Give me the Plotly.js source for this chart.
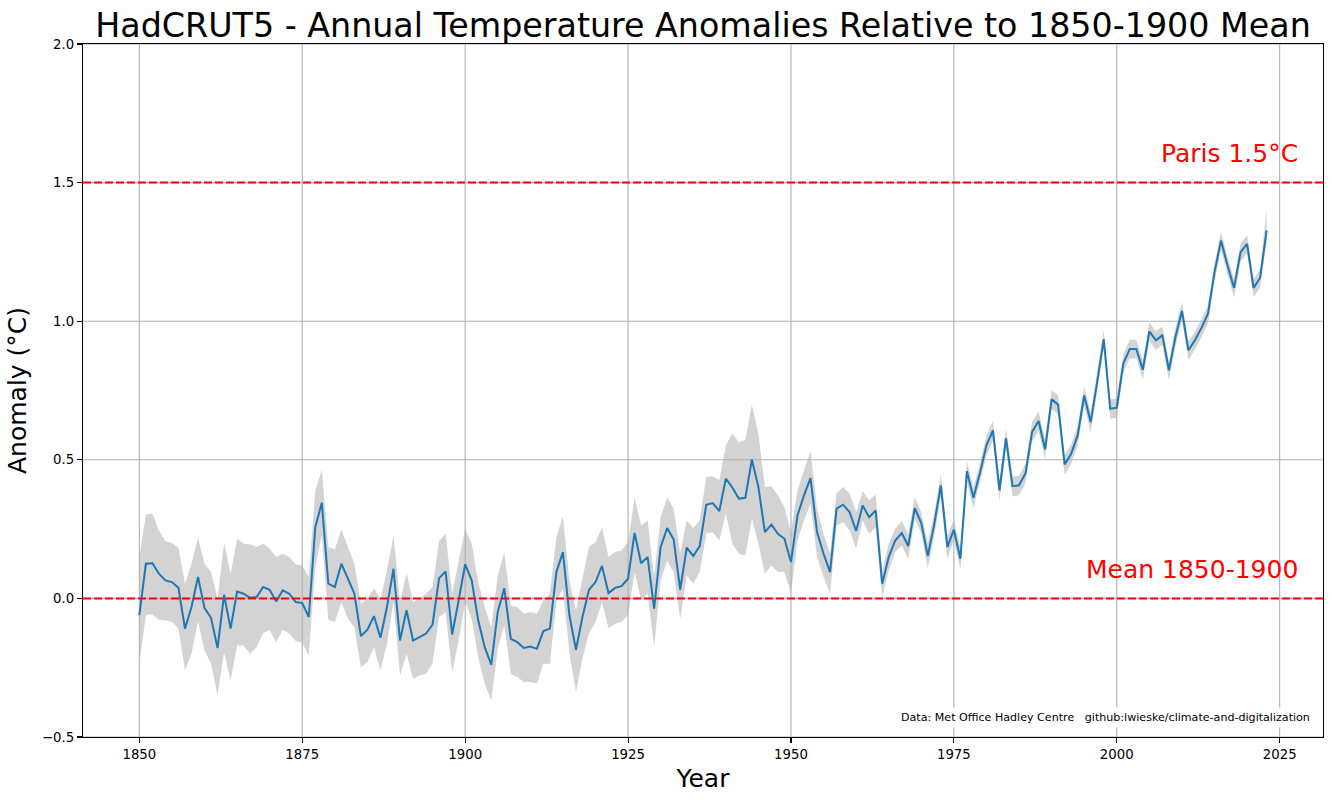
<!DOCTYPE html>
<html>
<head>
<meta charset="utf-8">
<script src="https://cdn.plot.ly/plotly-3.0.1.min.js"></script>
<style>
  html, body { margin: 0; padding: 0; background: #fff; }
  #chart { width: 1333px; height: 800px; }
</style>
</head>
<body>
<div id="chart"></div>
<script>
// ---------------- DATA ----------------
const startYear = 1850;
const anomaly = [
  -0.060, 0.125, 0.127, 0.089, 0.065, 0.059, 0.038, -0.109, -0.031, 0.077,
  -0.035, -0.070, -0.179, 0.013, -0.109, 0.025, 0.017, 0.002, 0.005, 0.041,
  0.031, -0.011, 0.029, 0.017, -0.013, -0.017, -0.067, 0.257, 0.345, 0.053,
  0.041, 0.125, 0.071, 0.017, -0.136, -0.113, -0.064, -0.142, -0.031, 0.107,
  -0.152, -0.043, -0.152, -0.140, -0.127, -0.094, 0.073, 0.097, -0.130, -0.007,
  0.123, 0.065, -0.079, -0.176, -0.239, -0.049, 0.037, -0.146, -0.158, -0.179,
  -0.174, -0.182, -0.118, -0.109, 0.095, 0.167, -0.061, -0.185, -0.067, 0.031,
  0.059, 0.117, 0.019, 0.038, 0.044, 0.071, 0.236, 0.127, 0.149, -0.037,
  0.185, 0.254, 0.212, 0.032, 0.183, 0.153, 0.189, 0.338, 0.344, 0.315,
  0.432, 0.400, 0.360, 0.363, 0.501, 0.402, 0.239, 0.266, 0.233, 0.215,
  0.131, 0.299, 0.372, 0.434, 0.239, 0.161, 0.095, 0.324, 0.338, 0.311,
  0.243, 0.335, 0.293, 0.317, 0.053, 0.149, 0.209, 0.236, 0.189, 0.326,
  0.272, 0.153, 0.269, 0.408, 0.185, 0.248, 0.143, 0.459, 0.363, 0.452,
  0.552, 0.606, 0.390, 0.578, 0.405, 0.408, 0.452, 0.600, 0.640, 0.538,
  0.718, 0.699, 0.483, 0.522, 0.588, 0.732, 0.636, 0.781, 0.935, 0.684,
  0.688, 0.847, 0.900, 0.900, 0.825, 0.963, 0.931, 0.949, 0.823, 0.943,
  1.037, 0.895, 0.931, 0.976, 1.027, 1.177, 1.291, 1.201, 1.120, 1.249,
  1.279, 1.120, 1.157, 1.328
];
const upperBound = [
  0.150, 0.302, 0.306, 0.245, 0.206, 0.201, 0.182, 0.053, 0.125, 0.219,
  0.125, 0.095, -0.001, 0.201, 0.089, 0.215, 0.197, 0.195, 0.185, 0.197,
  0.179, 0.149, 0.161, 0.149, 0.122, 0.119, 0.077, 0.390, 0.464, 0.185,
  0.176, 0.249, 0.185, 0.125, -0.019, -0.001, 0.037, -0.001, 0.101, 0.227,
  -0.013, 0.091, -0.013, -0.001, 0.017, 0.041, 0.207, 0.233, 0.017, 0.131,
  0.251, 0.197, 0.059, -0.031, -0.104, 0.083, 0.167, -0.025, -0.031, -0.055,
  -0.049, -0.055, -0.007, 0.017, 0.221, 0.296, 0.065, -0.043, 0.067, 0.185,
  0.203, 0.257, 0.149, 0.167, 0.173, 0.203, 0.363, 0.263, 0.281, 0.077,
  0.293, 0.363, 0.324, 0.161, 0.281, 0.254, 0.281, 0.438, 0.441, 0.426,
  0.552, 0.596, 0.562, 0.572, 0.699, 0.594, 0.402, 0.404, 0.372, 0.329,
  0.239, 0.390, 0.462, 0.531, 0.324, 0.233, 0.161, 0.380, 0.402, 0.378,
  0.311, 0.387, 0.354, 0.375, 0.095, 0.197, 0.251, 0.279, 0.231, 0.365,
  0.311, 0.197, 0.311, 0.448, 0.225, 0.285, 0.180, 0.495, 0.400, 0.488,
  0.588, 0.640, 0.425, 0.614, 0.440, 0.442, 0.487, 0.636, 0.675, 0.572,
  0.752, 0.733, 0.517, 0.555, 0.622, 0.766, 0.670, 0.815, 0.968, 0.718,
  0.720, 0.880, 0.933, 0.933, 0.858, 0.996, 0.963, 0.981, 0.855, 0.975,
  1.069, 0.927, 0.962, 1.007, 1.058, 1.208, 1.322, 1.232, 1.151, 1.280,
  1.310, 1.151, 1.188, 1.403
];
const lowerBound = [
  -0.236, -0.059, -0.058, -0.077, -0.079, -0.085, -0.109, -0.260, -0.200, -0.082,
  -0.188, -0.236, -0.350, -0.194, -0.296, -0.170, -0.170, -0.200, -0.176, -0.125,
  -0.115, -0.158, -0.113, -0.127, -0.154, -0.161, -0.206, 0.113, 0.227, -0.077,
  -0.085, -0.013, -0.073, -0.104, -0.248, -0.230, -0.176, -0.260, -0.164, -0.013,
  -0.278, -0.200, -0.290, -0.278, -0.272, -0.236, -0.067, -0.049, -0.266, -0.152,
  -0.013, -0.073, -0.212, -0.308, -0.368, -0.182, -0.097, -0.272, -0.284, -0.302,
  -0.302, -0.308, -0.236, -0.236, -0.013, 0.035, -0.200, -0.338, -0.218, -0.127,
  -0.085, -0.013, -0.109, -0.091, -0.085, -0.061, 0.095, -0.007, 0.017, -0.176,
  0.065, 0.137, 0.095, -0.073, 0.083, 0.053, 0.095, 0.233, 0.239, 0.209,
  0.306, 0.197, 0.161, 0.155, 0.287, 0.197, 0.089, 0.119, 0.095, 0.095,
  0.017, 0.209, 0.281, 0.342, 0.149, 0.077, 0.017, 0.263, 0.275, 0.245,
  0.179, 0.281, 0.233, 0.257, 0.005, 0.101, 0.167, 0.191, 0.143, 0.287,
  0.233, 0.107, 0.227, 0.366, 0.143, 0.210, 0.103, 0.420, 0.325, 0.415,
  0.515, 0.570, 0.352, 0.540, 0.368, 0.372, 0.416, 0.565, 0.605, 0.502,
  0.683, 0.664, 0.445, 0.486, 0.552, 0.697, 0.600, 0.746, 0.900, 0.648,
  0.652, 0.812, 0.866, 0.866, 0.790, 0.929, 0.897, 0.915, 0.788, 0.909,
  1.003, 0.860, 0.898, 0.943, 0.993, 1.143, 1.258, 1.167, 1.085, 1.215,
  1.245, 1.086, 1.122, 1.285
];
const years = anomaly.map((_, i) => startYear + i);

const xTicks = [1850, 1875, 1900, 1925, 1950, 1975, 2000, 2025];
const yTicks = [-0.5, 0.0, 0.5, 1.0, 1.5, 2.0];
const xRange = [1841.35, 2031.65];
const yRange = [-0.5, 2.0];

const parisLevel = 1.5;
const baselineLevel = 0.0;
const parisLabel = "Paris 1.5°C";
const baselineLabel = "Mean 1850-1900";
const labelX = 2028;
const labelOffset = 0.05;

const titleText = "HadCRUT5 - Annual Temperature Anomalies Relative to 1850-1900 Mean";
const xTitle = "Year";
const yTitle = "Anomaly (°C)";
const sourceText = "Data: Met Office Hadley Centre   github:lwieske/climate-and-digitalization";

// ---------------- GRID (drawn as traces so it sits above the band) ----------------
const gx = [], gy = [];
xTicks.forEach(t => { gx.push(t, t, null); gy.push(yRange[0], yRange[1], null); });
yTicks.forEach(t => { gx.push(xRange[0], xRange[1], null); gy.push(t, t, null); });

const FONT = "DejaVu Sans, sans-serif";

const traces = [
  { x: years, y: lowerBound, type: "scatter", mode: "lines",
    line: { width: 0, color: "rgba(0,0,0,0)" }, hoverinfo: "skip", showlegend: false },
  { x: years, y: upperBound, type: "scatter", mode: "lines", fill: "tonexty",
    fillcolor: "#d3d3d3", line: { width: 0, color: "rgba(0,0,0,0)" },
    hoverinfo: "skip", showlegend: false },
  { x: gx, y: gy, type: "scatter", mode: "lines", connectgaps: false,
    line: { color: "#b0b0b0", width: 1.1 }, hoverinfo: "skip", showlegend: false },
  { x: years, y: anomaly, type: "scatter", mode: "lines",
    line: { color: "#1f77b4", width: 2 }, showlegend: false }
];

const layout = {
  width: 1333, height: 800,
  margin: { l: 83, r: 10, t: 44, b: 63, pad: 0 },
  paper_bgcolor: "#ffffff", plot_bgcolor: "#ffffff",
  font: { family: FONT, color: "#000", size: 13.3 },
  showlegend: false,
  title: {
    text: titleText, font: { family: FONT, size: 33.3, color: "#000" },
    x: (83 + 1323) / 2 / 1333, xanchor: "center", xref: "container",
    y: 1 - 25 / 800, yanchor: "middle", yref: "container"
  },
  xaxis: {
    range: xRange, tickmode: "array", tickvals: xTicks,
    ticktext: xTicks.map(String),
    showgrid: false, zeroline: false,
    showline: true, mirror: true, linecolor: "#000", linewidth: 1.1,
    ticks: "outside", ticklen: 5, tickwidth: 1.1, tickcolor: "#000",
    tickfont: { family: FONT, size: 13.3, color: "#000" },
    title: { text: xTitle, font: { family: FONT, size: 25, color: "#000" }, standoff: 8 }
  },
  yaxis: {
    range: yRange, tickmode: "array", tickvals: yTicks,
    ticktext: yTicks.map(v => v.toFixed(1).replace("-", "\u2212")),
    showgrid: false, zeroline: false,
    showline: true, mirror: true, linecolor: "#000", linewidth: 1.1,
    ticks: "outside", ticklen: 5, tickwidth: 1.1, tickcolor: "#000",
    tickfont: { family: FONT, size: 13.3, color: "#000" },
    title: { text: yTitle, font: { family: FONT, size: 25, color: "#000" }, standoff: 8 }
  },
  shapes: [
    { type: "line", xref: "paper", x0: 0, x1: 1, yref: "y", y0: parisLevel, y1: parisLevel,
      line: { color: "#ff0000", width: 2, dash: "8px,3px" }, layer: "above" },
    { type: "line", xref: "paper", x0: 0, x1: 1, yref: "y", y0: baselineLevel, y1: baselineLevel,
      line: { color: "#ff0000", width: 2, dash: "8px,3px" }, layer: "above" }
  ],
  annotations: [
    { x: labelX, y: parisLevel + labelOffset, xref: "x", yref: "y",
      text: parisLabel, showarrow: false, xanchor: "right", yanchor: "bottom",
      font: { family: FONT, size: 25, color: "#ff0000" }, borderpad: 0 },
    { x: labelX, y: baselineLevel + labelOffset, xref: "x", yref: "y",
      text: baselineLabel, showarrow: false, xanchor: "right", yanchor: "bottom",
      font: { family: FONT, size: 25, color: "#ff0000" }, borderpad: 0 },
    { x: 0.9927, y: 20 / 693, xref: "paper", yref: "paper",
      text: sourceText, showarrow: false, xanchor: "right", yanchor: "middle",
      bgcolor: "#ffffff", borderpad: 3,
      font: { family: FONT, size: 11.1, color: "#000" } }
  ]
};

Plotly.newPlot("chart", traces, layout, { staticPlot: true, displayModeBar: false });
</script>
</body>
</html>
